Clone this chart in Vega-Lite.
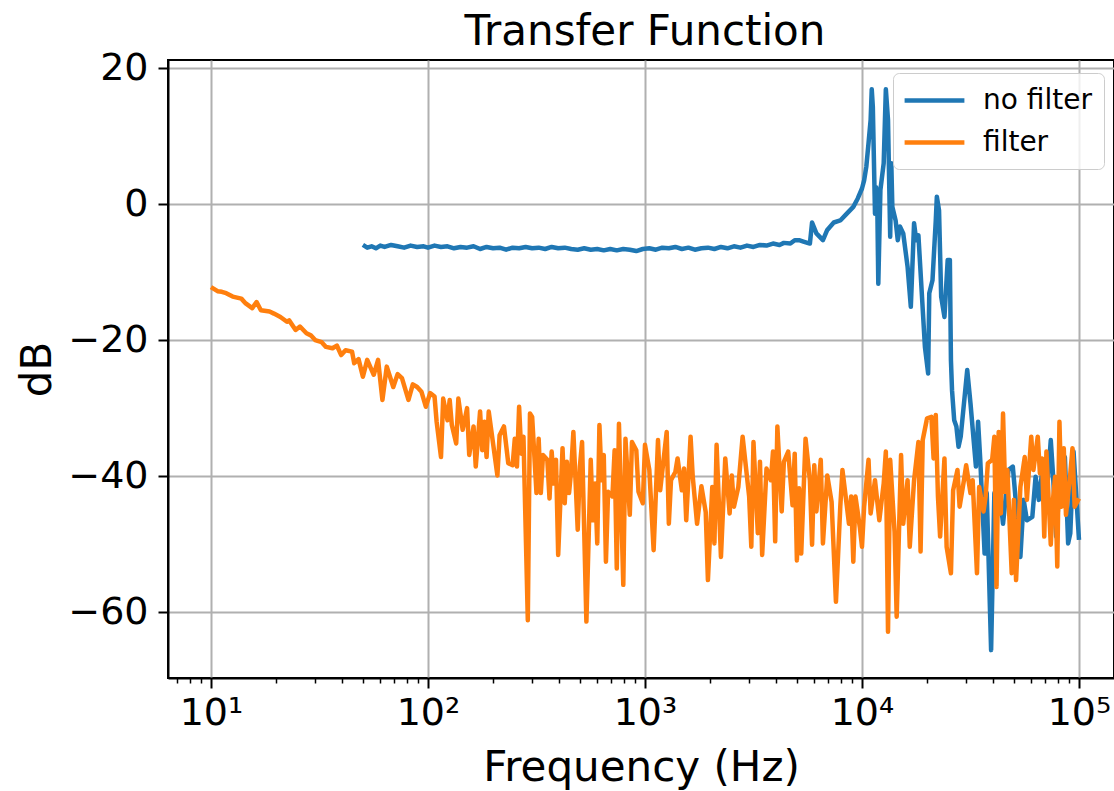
{
"$schema": "https://vega.github.io/schema/vega-lite/v6.json",
"width": 946, "height": 618,
"autosize": {"type": "none"},
"padding": {"left": 168, "top": 60, "right": 0, "bottom": 113},
"background": "white",
"title": {"text": "Transfer Function", "fontSize": 42, "fontWeight": "normal", "font": "DejaVu Sans", "color": "#000", "anchor": "middle", "frame": "group", "offset": -5, "dx": 4},
"data": {"values": [
{"f":50.12,"db":-6.0,"s":"no filter"},{"f":52.48,"db":-6.4,"s":"no filter"},{"f":54.95,"db":-6.2,"s":"no filter"},{"f":57.54,"db":-6.5,"s":"no filter"},{"f":60.26,"db":-6.1,"s":"no filter"},{"f":63.10,"db":-6.3,"s":"no filter"},{"f":67.61,"db":-6.0,"s":"no filter"},{"f":72.44,"db":-6.2,"s":"no filter"},{"f":77.62,"db":-6.4,"s":"no filter"},{"f":83.18,"db":-6.1,"s":"no filter"},{"f":89.13,"db":-6.3,"s":"no filter"},{"f":95.50,"db":-6.2,"s":"no filter"},{"f":100,"db":-6.4,"s":"no filter"},{"f":107.2,"db":-6.1,"s":"no filter"},{"f":114.8,"db":-6.3,"s":"no filter"},{"f":123.0,"db":-6.2,"s":"no filter"},{"f":131.8,"db":-6.5,"s":"no filter"},{"f":141.3,"db":-6.3,"s":"no filter"},{"f":151.4,"db":-6.4,"s":"no filter"},{"f":162.2,"db":-6.2,"s":"no filter"},{"f":173.8,"db":-6.6,"s":"no filter"},{"f":186.2,"db":-6.3,"s":"no filter"},{"f":199.5,"db":-6.5,"s":"no filter"},{"f":213.8,"db":-6.4,"s":"no filter"},{"f":229.1,"db":-6.7,"s":"no filter"},{"f":245.5,"db":-6.4,"s":"no filter"},{"f":263.0,"db":-6.5,"s":"no filter"},{"f":281.8,"db":-6.3,"s":"no filter"},{"f":302.0,"db":-6.5,"s":"no filter"},{"f":323.6,"db":-6.4,"s":"no filter"},{"f":346.7,"db":-6.6,"s":"no filter"},{"f":371.5,"db":-6.3,"s":"no filter"},{"f":398.1,"db":-6.5,"s":"no filter"},{"f":426.6,"db":-6.4,"s":"no filter"},{"f":457.1,"db":-6.6,"s":"no filter"},{"f":489.8,"db":-6.7,"s":"no filter"},{"f":524.8,"db":-6.5,"s":"no filter"},{"f":562.3,"db":-6.7,"s":"no filter"},{"f":602.6,"db":-6.6,"s":"no filter"},{"f":645.7,"db":-6.8,"s":"no filter"},{"f":691.8,"db":-6.6,"s":"no filter"},{"f":741.3,"db":-6.8,"s":"no filter"},{"f":794.3,"db":-6.6,"s":"no filter"},{"f":851.1,"db":-6.7,"s":"no filter"},{"f":912.0,"db":-6.9,"s":"no filter"},{"f":977.2,"db":-6.6,"s":"no filter"},{"f":1047,"db":-6.5,"s":"no filter"},{"f":1122,"db":-6.7,"s":"no filter"},{"f":1202,"db":-6.4,"s":"no filter"},{"f":1288,"db":-6.5,"s":"no filter"},{"f":1380,"db":-6.3,"s":"no filter"},{"f":1479,"db":-6.6,"s":"no filter"},{"f":1585,"db":-6.4,"s":"no filter"},{"f":1698,"db":-6.7,"s":"no filter"},{"f":1820,"db":-6.5,"s":"no filter"},{"f":1950,"db":-6.4,"s":"no filter"},{"f":2089,"db":-6.6,"s":"no filter"},{"f":2239,"db":-6.3,"s":"no filter"},{"f":2399,"db":-6.5,"s":"no filter"},{"f":2570,"db":-6.2,"s":"no filter"},{"f":2754,"db":-6.4,"s":"no filter"},{"f":2951,"db":-6.1,"s":"no filter"},{"f":3162,"db":-6.3,"s":"no filter"},{"f":3388,"db":-6.0,"s":"no filter"},{"f":3631,"db":-6.1,"s":"no filter"},{"f":3890,"db":-5.8,"s":"no filter"},{"f":4169,"db":-6.0,"s":"no filter"},{"f":4365,"db":-5.7,"s":"no filter"},{"f":4677,"db":-5.8,"s":"no filter"},{"f":4898,"db":-5.3,"s":"no filter"},{"f":5129,"db":-5.3,"s":"no filter"},{"f":5370,"db":-5.5,"s":"no filter"},{"f":5754,"db":-5.8,"s":"no filter"},{"f":5888,"db":-2.7,"s":"no filter"},{"f":6166,"db":-4.3,"s":"no filter"},{"f":6607,"db":-5.3,"s":"no filter"},{"f":6918,"db":-3.8,"s":"no filter"},{"f":7413,"db":-2.7,"s":"no filter"},{"f":7943,"db":-2.4,"s":"no filter"},{"f":8511,"db":-1.4,"s":"no filter"},{"f":9120,"db":-0.4,"s":"no filter"},{"f":9550,"db":0.8,"s":"no filter"},{"f":10000,"db":2.3,"s":"no filter"},{"f":10230,"db":3.5,"s":"no filter"},{"f":10470,"db":5.5,"s":"no filter"},{"f":10720,"db":9.0,"s":"no filter"},{"f":10960,"db":12.4,"s":"no filter"},{"f":11090,"db":16.9,"s":"no filter"},{"f":11220,"db":14.3,"s":"no filter"},{"f":11480,"db":-1.4,"s":"no filter"},{"f":11610,"db":2.5,"s":"no filter"},{"f":11750,"db":1.1,"s":"no filter"},{"f":11890,"db":-11.7,"s":"no filter"},{"f":12160,"db":2.1,"s":"no filter"},{"f":12590,"db":6.0,"s":"no filter"},{"f":12880,"db":16.9,"s":"no filter"},{"f":13180,"db":12.4,"s":"no filter"},{"f":13490,"db":-4.8,"s":"no filter"},{"f":13650,"db":6.0,"s":"no filter"},{"f":13800,"db":-0.4,"s":"no filter"},{"f":14290,"db":-2.4,"s":"no filter"},{"f":14620,"db":-5.3,"s":"no filter"},{"f":14960,"db":-3.3,"s":"no filter"},{"f":15490,"db":-4.3,"s":"no filter"},{"f":16220,"db":-9.2,"s":"no filter"},{"f":16790,"db":-15.1,"s":"no filter"},{"f":17380,"db":-2.8,"s":"no filter"},{"f":17780,"db":-5.3,"s":"no filter"},{"f":18200,"db":-4.6,"s":"no filter"},{"f":19500,"db":-21.0,"s":"no filter"},{"f":20180,"db":-24.9,"s":"no filter"},{"f":20420,"db":-13.1,"s":"no filter"},{"f":21130,"db":-11.2,"s":"no filter"},{"f":21880,"db":-2.4,"s":"no filter"},{"f":22130,"db":1.1,"s":"no filter"},{"f":22650,"db":-0.9,"s":"no filter"},{"f":23170,"db":-13.6,"s":"no filter"},{"f":23990,"db":-16.6,"s":"no filter"},{"f":24830,"db":-8.2,"s":"no filter"},{"f":25410,"db":-8.2,"s":"no filter"},{"f":25700,"db":-23.0,"s":"no filter"},{"f":26000,"db":-27.4,"s":"no filter"},{"f":26610,"db":-31.8,"s":"no filter"},{"f":27230,"db":-32.7,"s":"no filter"},{"f":27860,"db":-35.7,"s":"no filter"},{"f":28510,"db":-34.2,"s":"no filter"},{"f":30550,"db":-24.4,"s":"no filter"},{"f":31620,"db":-29.3,"s":"no filter"},{"f":33500,"db":-38.6,"s":"no filter"},{"f":34280,"db":-32.0,"s":"no filter"},{"f":35080,"db":-37.6,"s":"no filter"},{"f":36730,"db":-51.4,"s":"no filter"},{"f":37580,"db":-42.5,"s":"no filter"},{"f":39360,"db":-65.6,"s":"no filter"},{"f":40740,"db":-42.5,"s":"no filter"},{"f":41210,"db":-47.9,"s":"no filter"},{"f":43150,"db":-42.5,"s":"no filter"},{"f":44670,"db":-47.0,"s":"no filter"},{"f":47320,"db":-39.1,"s":"no filter"},{"f":49550,"db":-38.6,"s":"no filter"},{"f":51880,"db":-46.0,"s":"no filter"},{"f":53700,"db":-51.9,"s":"no filter"},{"f":55590,"db":-43.5,"s":"no filter"},{"f":57540,"db":-46.5,"s":"no filter"},{"f":60950,"db":-46.0,"s":"no filter"},{"f":63100,"db":-40.1,"s":"no filter"},{"f":65310,"db":-43.5,"s":"no filter"},{"f":68390,"db":-38.1,"s":"no filter"},{"f":70790,"db":-43.5,"s":"no filter"},{"f":74130,"db":-34.7,"s":"no filter"},{"f":75860,"db":-39.6,"s":"no filter"},{"f":78520,"db":-48.9,"s":"no filter"},{"f":81280,"db":-41.6,"s":"no filter"},{"f":84140,"db":-40.6,"s":"no filter"},{"f":86100,"db":-37.2,"s":"no filter"},{"f":89130,"db":-49.9,"s":"no filter"},{"f":91200,"db":-48.4,"s":"no filter"},{"f":94410,"db":-36.4,"s":"no filter"},{"f":100000,"db":-49.4,"s":"no filter"},
{"f":10,"db":-12.2,"s":"filter"},{"f":10.72,"db":-12.8,"s":"filter"},{"f":11.22,"db":-12.9,"s":"filter"},{"f":11.75,"db":-13.1,"s":"filter"},{"f":12.59,"db":-13.6,"s":"filter"},{"f":13.80,"db":-13.9,"s":"filter"},{"f":14.45,"db":-14.6,"s":"filter"},{"f":15.49,"db":-15.3,"s":"filter"},{"f":16.22,"db":-14.4,"s":"filter"},{"f":16.98,"db":-15.6,"s":"filter"},{"f":18.62,"db":-15.8,"s":"filter"},{"f":19.50,"db":-16.1,"s":"filter"},{"f":20.89,"db":-16.6,"s":"filter"},{"f":22.39,"db":-17.3,"s":"filter"},{"f":22.91,"db":-17.1,"s":"filter"},{"f":24.55,"db":-18.5,"s":"filter"},{"f":25.70,"db":-18.0,"s":"filter"},{"f":27.54,"db":-19.0,"s":"filter"},{"f":28.84,"db":-19.3,"s":"filter"},{"f":30.20,"db":-20.0,"s":"filter"},{"f":32.36,"db":-20.3,"s":"filter"},{"f":33.88,"db":-21.0,"s":"filter"},{"f":36.31,"db":-21.2,"s":"filter"},{"f":38.02,"db":-20.8,"s":"filter"},{"f":39.81,"db":-22.2,"s":"filter"},{"f":41.69,"db":-21.5,"s":"filter"},{"f":44.67,"db":-21.7,"s":"filter"},{"f":45.71,"db":-23.4,"s":"filter"},{"f":47.86,"db":-22.8,"s":"filter"},{"f":50.12,"db":-25.4,"s":"filter"},{"f":52.48,"db":-22.9,"s":"filter"},{"f":56.23,"db":-25.1,"s":"filter"},{"f":58.88,"db":-22.9,"s":"filter"},{"f":61.66,"db":-28.8,"s":"filter"},{"f":64.57,"db":-23.9,"s":"filter"},{"f":69.18,"db":-26.9,"s":"filter"},{"f":72.44,"db":-25.0,"s":"filter"},{"f":75.86,"db":-25.6,"s":"filter"},{"f":81.28,"db":-28.8,"s":"filter"},{"f":85.11,"db":-26.5,"s":"filter"},{"f":89.13,"db":-26.9,"s":"filter"},{"f":93.33,"db":-27.6,"s":"filter"},{"f":97.72,"db":-29.8,"s":"filter"},{"f":102.3,"db":-27.8,"s":"filter"},{"f":107.2,"db":-28.3,"s":"filter"},{"f":109.6,"db":-32.0,"s":"filter"},{"f":114.8,"db":-37.2,"s":"filter"},{"f":117.5,"db":-28.6,"s":"filter"},{"f":123.0,"db":-31.8,"s":"filter"},{"f":125.9,"db":-28.8,"s":"filter"},{"f":128.8,"db":-32.5,"s":"filter"},{"f":134.9,"db":-35.2,"s":"filter"},{"f":138.0,"db":-28.6,"s":"filter"},{"f":144.5,"db":-33.2,"s":"filter"},{"f":151.4,"db":-30.0,"s":"filter"},{"f":154.9,"db":-36.9,"s":"filter"},{"f":162.2,"db":-32.7,"s":"filter"},{"f":166.0,"db":-38.6,"s":"filter"},{"f":173.8,"db":-30.5,"s":"filter"},{"f":177.8,"db":-36.2,"s":"filter"},{"f":182.0,"db":-32.0,"s":"filter"},{"f":186.2,"db":-37.2,"s":"filter"},{"f":190.5,"db":-30.5,"s":"filter"},{"f":199.5,"db":-35.2,"s":"filter"},{"f":208.9,"db":-39.9,"s":"filter"},{"f":213.8,"db":-34.0,"s":"filter"},{"f":223.9,"db":-32.7,"s":"filter"},{"f":234.4,"db":-38.1,"s":"filter"},{"f":245.5,"db":-38.4,"s":"filter"},{"f":251.2,"db":-34.5,"s":"filter"},{"f":257.0,"db":-38.6,"s":"filter"},{"f":263.0,"db":-29.8,"s":"filter"},{"f":269.2,"db":-36.7,"s":"filter"},{"f":275.4,"db":-34.2,"s":"filter"},{"f":288.4,"db":-61.2,"s":"filter"},{"f":295.1,"db":-30.8,"s":"filter"},{"f":302.0,"db":-31.3,"s":"filter"},{"f":316.2,"db":-42.5,"s":"filter"},{"f":323.6,"db":-34.5,"s":"filter"},{"f":331.1,"db":-42.5,"s":"filter"},{"f":338.8,"db":-36.9,"s":"filter"},{"f":354.8,"db":-37.6,"s":"filter"},{"f":363.1,"db":-43.3,"s":"filter"},{"f":371.5,"db":-36.4,"s":"filter"},{"f":380.2,"db":-41.1,"s":"filter"},{"f":389.0,"db":-37.6,"s":"filter"},{"f":398.1,"db":-51.6,"s":"filter"},{"f":416.9,"db":-35.9,"s":"filter"},{"f":426.6,"db":-44.0,"s":"filter"},{"f":436.5,"db":-37.9,"s":"filter"},{"f":446.7,"db":-42.5,"s":"filter"},{"f":457.1,"db":-39.1,"s":"filter"},{"f":467.7,"db":-33.5,"s":"filter"},{"f":489.8,"db":-47.9,"s":"filter"},{"f":501.2,"db":-38.6,"s":"filter"},{"f":512.9,"db":-35.0,"s":"filter"},{"f":537.0,"db":-61.4,"s":"filter"},{"f":562.3,"db":-37.6,"s":"filter"},{"f":575.4,"db":-46.5,"s":"filter"},{"f":588.8,"db":-41.1,"s":"filter"},{"f":602.6,"db":-49.9,"s":"filter"},{"f":616.6,"db":-32.5,"s":"filter"},{"f":631.0,"db":-40.6,"s":"filter"},{"f":645.7,"db":-36.9,"s":"filter"},{"f":660.7,"db":-52.6,"s":"filter"},{"f":676.1,"db":-42.3,"s":"filter"},{"f":707.9,"db":-43.0,"s":"filter"},{"f":724.4,"db":-36.2,"s":"filter"},{"f":741.3,"db":-53.6,"s":"filter"},{"f":758.6,"db":-32.3,"s":"filter"},{"f":794.3,"db":-56.0,"s":"filter"},{"f":812.8,"db":-34.5,"s":"filter"},{"f":851.1,"db":-45.7,"s":"filter"},{"f":871.0,"db":-35.0,"s":"filter"},{"f":912.0,"db":-36.2,"s":"filter"},{"f":933.3,"db":-42.3,"s":"filter"},{"f":977.2,"db":-44.0,"s":"filter"},{"f":1000,"db":-35.4,"s":"filter"},{"f":1047,"db":-39.1,"s":"filter"},{"f":1096,"db":-50.9,"s":"filter"},{"f":1148,"db":-34.7,"s":"filter"},{"f":1175,"db":-42.1,"s":"filter"},{"f":1259,"db":-33.5,"s":"filter"},{"f":1288,"db":-47.0,"s":"filter"},{"f":1318,"db":-40.6,"s":"filter"},{"f":1380,"db":-39.4,"s":"filter"},{"f":1413,"db":-37.4,"s":"filter"},{"f":1479,"db":-42.1,"s":"filter"},{"f":1514,"db":-38.9,"s":"filter"},{"f":1549,"db":-46.5,"s":"filter"},{"f":1622,"db":-34.2,"s":"filter"},{"f":1660,"db":-40.1,"s":"filter"},{"f":1738,"db":-47.0,"s":"filter"},{"f":1820,"db":-41.5,"s":"filter"},{"f":1905,"db":-45.3,"s":"filter"},{"f":1950,"db":-55.3,"s":"filter"},{"f":2042,"db":-41.6,"s":"filter"},{"f":2089,"db":-49.9,"s":"filter"},{"f":2138,"db":-35.4,"s":"filter"},{"f":2239,"db":-51.9,"s":"filter"},{"f":2344,"db":-37.4,"s":"filter"},{"f":2455,"db":-45.5,"s":"filter"},{"f":2512,"db":-39.9,"s":"filter"},{"f":2570,"db":-44.5,"s":"filter"},{"f":2692,"db":-41.6,"s":"filter"},{"f":2818,"db":-34.2,"s":"filter"},{"f":3020,"db":-43.0,"s":"filter"},{"f":3090,"db":-50.4,"s":"filter"},{"f":3162,"db":-35.0,"s":"filter"},{"f":3311,"db":-48.4,"s":"filter"},{"f":3388,"db":-37.9,"s":"filter"},{"f":3467,"db":-51.6,"s":"filter"},{"f":3631,"db":-38.9,"s":"filter"},{"f":3802,"db":-40.6,"s":"filter"},{"f":3890,"db":-36.4,"s":"filter"},{"f":3981,"db":-49.6,"s":"filter"},{"f":4074,"db":-32.7,"s":"filter"},{"f":4266,"db":-45.2,"s":"filter"},{"f":4365,"db":-37.9,"s":"filter"},{"f":4571,"db":-36.4,"s":"filter"},{"f":4786,"db":-44.3,"s":"filter"},{"f":4898,"db":-36.7,"s":"filter"},{"f":5012,"db":-52.4,"s":"filter"},{"f":5129,"db":-41.8,"s":"filter"},{"f":5248,"db":-51.4,"s":"filter"},{"f":5495,"db":-34.5,"s":"filter"},{"f":5754,"db":-40.6,"s":"filter"},{"f":5888,"db":-50.1,"s":"filter"},{"f":6026,"db":-38.4,"s":"filter"},{"f":6166,"db":-45.2,"s":"filter"},{"f":6457,"db":-37.6,"s":"filter"},{"f":6607,"db":-49.9,"s":"filter"},{"f":6918,"db":-39.9,"s":"filter"},{"f":7244,"db":-43.8,"s":"filter"},{"f":7586,"db":-58.5,"s":"filter"},{"f":7943,"db":-44.5,"s":"filter"},{"f":8128,"db":-39.1,"s":"filter"},{"f":8710,"db":-47.0,"s":"filter"},{"f":8913,"db":-43.0,"s":"filter"},{"f":9120,"db":-52.6,"s":"filter"},{"f":9333,"db":-43.0,"s":"filter"},{"f":9772,"db":-47.5,"s":"filter"},{"f":10000,"db":-50.4,"s":"filter"},{"f":10230,"db":-44.5,"s":"filter"},{"f":10720,"db":-37.6,"s":"filter"},{"f":10960,"db":-45.5,"s":"filter"},{"f":11480,"db":-40.6,"s":"filter"},{"f":12020,"db":-46.5,"s":"filter"},{"f":12590,"db":-41.1,"s":"filter"},{"f":12880,"db":-36.4,"s":"filter"},{"f":13180,"db":-62.9,"s":"filter"},{"f":13490,"db":-37.6,"s":"filter"},{"f":14130,"db":-48.2,"s":"filter"},{"f":14450,"db":-60.7,"s":"filter"},{"f":15140,"db":-36.9,"s":"filter"},{"f":15490,"db":-47.0,"s":"filter"},{"f":16220,"db":-40.6,"s":"filter"},{"f":16600,"db":-50.4,"s":"filter"},{"f":17380,"db":-40.6,"s":"filter"},{"f":18200,"db":-35.0,"s":"filter"},{"f":18620,"db":-51.1,"s":"filter"},{"f":19050,"db":-34.7,"s":"filter"},{"f":19950,"db":-31.5,"s":"filter"},{"f":20890,"db":-31.3,"s":"filter"},{"f":21380,"db":-37.4,"s":"filter"},{"f":21880,"db":-31.0,"s":"filter"},{"f":22390,"db":-43.0,"s":"filter"},{"f":22910,"db":-48.9,"s":"filter"},{"f":23990,"db":-37.4,"s":"filter"},{"f":24550,"db":-50.4,"s":"filter"},{"f":25700,"db":-54.3,"s":"filter"},{"f":26300,"db":-42.1,"s":"filter"},{"f":27540,"db":-39.1,"s":"filter"},{"f":28180,"db":-44.5,"s":"filter"},{"f":29510,"db":-40.6,"s":"filter"},{"f":30200,"db":-38.4,"s":"filter"},{"f":31620,"db":-42.5,"s":"filter"},{"f":32360,"db":-40.6,"s":"filter"},{"f":33880,"db":-54.3,"s":"filter"},{"f":34670,"db":-41.6,"s":"filter"},{"f":36310,"db":-45.2,"s":"filter"},{"f":37150,"db":-43.0,"s":"filter"},{"f":38020,"db":-38.1,"s":"filter"},{"f":39810,"db":-37.6,"s":"filter"},{"f":40740,"db":-34.2,"s":"filter"},{"f":41690,"db":-56.3,"s":"filter"},{"f":42660,"db":-33.5,"s":"filter"},{"f":43650,"db":-45.5,"s":"filter"},{"f":44670,"db":-30.8,"s":"filter"},{"f":45710,"db":-42.3,"s":"filter"},{"f":46770,"db":-39.1,"s":"filter"},{"f":48980,"db":-54.3,"s":"filter"},{"f":50120,"db":-43.5,"s":"filter"},{"f":51290,"db":-55.3,"s":"filter"},{"f":53700,"db":-41.6,"s":"filter"},{"f":56230,"db":-37.2,"s":"filter"},{"f":57540,"db":-43.5,"s":"filter"},{"f":60260,"db":-34.2,"s":"filter"},{"f":61660,"db":-39.1,"s":"filter"},{"f":64570,"db":-34.2,"s":"filter"},{"f":66070,"db":-39.6,"s":"filter"},{"f":67610,"db":-37.4,"s":"filter"},{"f":69180,"db":-48.9,"s":"filter"},{"f":70790,"db":-36.4,"s":"filter"},{"f":74130,"db":-50.1,"s":"filter"},{"f":75860,"db":-43.5,"s":"filter"},{"f":77620,"db":-40.1,"s":"filter"},{"f":79430,"db":-53.3,"s":"filter"},{"f":81280,"db":-32.0,"s":"filter"},{"f":83180,"db":-44.5,"s":"filter"},{"f":85110,"db":-35.9,"s":"filter"},{"f":87100,"db":-45.7,"s":"filter"},{"f":91200,"db":-39.6,"s":"filter"},{"f":93330,"db":-35.9,"s":"filter"},{"f":95500,"db":-44.5,"s":"filter"},{"f":100000,"db":-43.3,"s":"filter"}
]},
"encoding": {
  "x": {"field": "f", "type": "quantitative",
    "scale": {"type": "log", "domain": [6.337, 145000], "nice": false},
    "axis": {"title": "Frequency (Hz)",
      "values": [7,8,9,10,20,30,40,50,60,70,80,90,100,200,300,400,500,600,700,800,900,1000,2000,3000,4000,5000,6000,7000,8000,9000,10000,20000,30000,40000,50000,60000,70000,80000,90000,100000],
      "labelExpr": "datum.value == 10 ? '10¹' : datum.value == 100 ? '10²' : datum.value == 1000 ? '10³' : datum.value == 10000 ? '10⁴' : datum.value == 100000 ? '10⁵' : ''",
      "tickSize": {"condition": {"test": "indexof([10,100,1000,10000,100000], datum.value) >= 0", "value": 10}, "value": 5},
      "tickWidth": {"condition": {"test": "indexof([10,100,1000,10000,100000], datum.value) >= 0", "value": 2}, "value": 1.5},
      "gridOpacity": {"condition": {"test": "indexof([10,100,1000,10000,100000], datum.value) >= 0", "value": 1}, "value": 0},
      "labelFlush": false, "labelOverlap": false, "labelBound": false, "labelPadding": 6, "titlePadding": 15}},
  "y": {"field": "db", "type": "quantitative",
    "scale": {"domain": [-69.7, 21.2], "nice": false, "zero": false},
    "axis": {"title": "dB", "values": [-60,-40,-20,0,20], "labelPadding": 10, "titlePadding": 8}},
  "color": {"field": "s", "type": "nominal",
    "scale": {"domain": ["no filter", "filter"], "range": ["#1f77b4", "#ff7f0e"]},
    "legend": {"title": null, "orient": "none", "legendX": 725, "legendY": 13, "symbolType": "M-2.3,0H2.3", "symbolSize": 676, "symbolStrokeWidth": 4.5, "symbolFillColor": "transparent", "symbolOffset": 14, "labelFontSize": 28, "labelFont": "DejaVu Sans", "labelColor": "#000", "labelOffset": 33, "padding": 12, "rowPadding": 12, "fillColor": "rgba(255,255,255,0.8)", "strokeColor": "#cccccc", "cornerRadius": 6}}
},
"layer": [
  {"transform": [{"filter": "datum.s == 'no filter'"}], "mark": {"type": "line", "strokeWidth": 4.5, "strokeJoin": "round", "clip": true}},
  {"transform": [{"filter": "datum.s == 'filter'"}], "mark": {"type": "line", "strokeWidth": 4.5, "strokeJoin": "round", "clip": true}}
],
"config": {
  "view": {"stroke": "#000", "strokeWidth": 2},
  "font": "DejaVu Sans",
  "axis": {"domainColor": "#000", "domainWidth": 2, "tickColor": "#000", "tickWidth": 2, "tickSize": 10, "gridColor": "#b0b0b0", "gridWidth": 2, "labelFont": "DejaVu Sans", "labelFontSize": 38, "labelColor": "#000", "titleFont": "DejaVu Sans", "titleFontSize": 42, "titleFontWeight": "normal", "titleColor": "#000"}
}
}
